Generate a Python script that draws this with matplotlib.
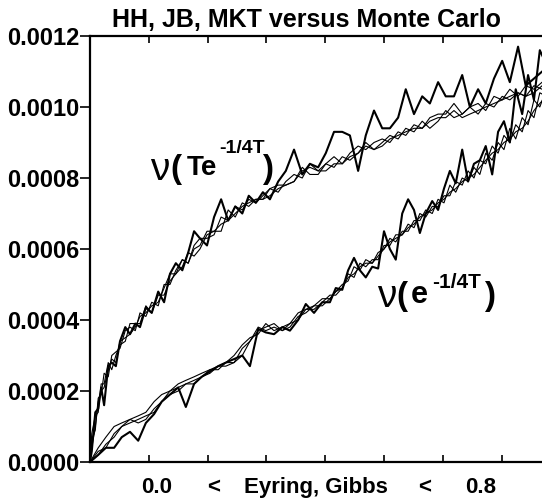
import numpy as np
import matplotlib
matplotlib.use("Agg")
import matplotlib.pyplot as plt
from matplotlib.ticker import FixedLocator, FuncFormatter

# ---------------- data (x in tick-spacing units, y in units of 1e-4) ----------------
x_upper = [0.00, 0.03, 0.09, 0.14, 0.19, 0.24, 0.31, 0.37, 0.44, 0.51,
           0.60, 0.68, 0.77, 0.85, 0.95, 1.05, 1.16, 1.26, 1.36, 1.46,
           1.57, 1.67, 1.77, 1.87, 1.99, 2.11, 2.23, 2.35, 2.47, 2.59,
           2.70, 2.82, 2.94, 3.06, 3.20, 3.33, 3.47, 3.61, 3.74, 3.88,
           4.01, 4.15, 4.29, 4.42, 4.56, 4.69, 4.83, 4.97, 5.10, 5.24,
           5.37, 5.51, 5.65, 5.78, 5.92, 6.05, 6.19, 6.33, 6.46, 6.60,
           6.73, 6.87, 7.01, 7.14, 7.28, 7.41, 7.55, 7.69]

upper_mc = [0.0, 0.3, 1.4, 1.5, 2.1, 1.6, 2.7, 2.8, 2.7, 3.4,
            3.8, 3.6, 3.9, 3.8, 4.35, 4.2, 4.8, 4.5, 5.3, 5.6,
            5.4, 5.9, 6.5, 6.3, 6.1, 6.9, 7.4, 6.8, 7.2, 7.0,
            7.5, 7.3, 7.6, 7.4, 7.9, 8.2, 8.8, 8.1, 8.4, 8.3,
            8.7, 9.3, 9.3, 9.2, 8.2, 9.2, 9.9, 9.4, 9.4, 9.7,
            10.5, 9.8, 10.3, 10.1, 10.7, 10.3, 10.3, 10.9, 10.0, 10.5,
            10.1, 10.8, 11.3, 10.7, 11.7, 10.6, 10.8, 11.0]
upper_hh = [0.0, 0.6, 0.9, 1.8, 1.9, 2.5, 2.4, 3.0, 3.1, 3.2,
            3.7, 3.8, 3.7, 4.2, 4.1, 4.5, 4.4, 5.0, 5.0, 5.4,
            5.7, 5.6, 6.1, 6.3, 6.3, 6.4, 6.9, 6.8, 7.2, 7.1,
            7.4, 7.3, 7.5, 7.7, 7.6, 7.9, 8.1, 8.0, 8.4, 8.2,
            8.4, 8.6, 8.4, 8.7, 8.9, 8.8, 9.0, 9.1, 9.0, 9.3,
            9.2, 9.5, 9.4, 9.7, 9.8, 9.8, 10.1, 9.8, 10.0, 10.1,
            9.9, 10.3, 10.2, 10.5, 10.3, 10.6, 10.5, 10.7]
upper_jb = [0.0, 0.8, 1.3, 1.4, 2.2, 2.2, 2.8, 2.6, 3.0, 3.3,
            3.4, 3.9, 3.9, 3.9, 4.4, 4.2, 4.7, 4.7, 5.1, 5.3,
            5.5, 5.9, 5.8, 6.0, 6.4, 6.5, 6.5, 7.1, 6.9, 7.3,
            7.2, 7.4, 7.4, 7.7, 7.8, 7.8, 7.9, 8.3, 8.1, 8.1,
            8.4, 8.3, 8.6, 8.5, 8.7, 9.0, 8.8, 9.0, 9.2, 9.1,
            9.4, 9.3, 9.6, 9.4, 9.6, 9.9, 9.7, 9.8, 10.0, 9.8,
            10.1, 10.0, 10.3, 10.2, 10.4, 10.3, 10.6, 10.5]
upper_mkt = [0.0, 0.4, 1.0, 1.7, 2.0, 2.1, 2.6, 2.9, 2.8, 3.4,
             3.5, 3.6, 3.8, 4.1, 4.2, 4.4, 4.5, 4.9, 5.3, 5.3,
             5.7, 5.6, 6.0, 6.1, 6.5, 6.5, 6.7, 6.8, 7.0, 7.2,
             7.3, 7.4, 7.4, 7.5, 7.7, 7.8, 7.9, 8.2, 8.3, 8.2,
             8.2, 8.4, 8.4, 8.6, 8.7, 8.9, 8.8, 8.9, 9.1, 9.2,
             9.3, 9.4, 9.4, 9.6, 9.7, 9.7, 9.9, 9.7, 9.8, 9.9,
             10.0, 10.1, 10.2, 10.3, 10.4, 10.3, 10.4, 10.6]

x_lower = [0.00, 0.14, 0.27, 0.41, 0.54, 0.68, 0.82, 0.95, 1.09, 1.22,
           1.36, 1.50, 1.63, 1.77, 1.90, 2.04, 2.18, 2.31, 2.45, 2.59,
           2.72, 2.86, 2.99, 3.13, 3.27, 3.40, 3.54, 3.67, 3.81, 3.95,
           4.08, 4.18, 4.29, 4.39, 4.49, 4.59, 4.69, 4.80, 4.90, 5.00,
           5.10, 5.20, 5.31, 5.41, 5.51, 5.61, 5.71, 5.82, 5.92, 6.02,
           6.12, 6.22, 6.33, 6.43, 6.53, 6.63, 6.73, 6.84, 6.94, 7.04,
           7.14, 7.24, 7.35, 7.45, 7.55, 7.65, 7.76]

lower_mc = [0.0, 0.2, 0.4, 0.4, 0.7, 0.85, 0.6, 1.1, 1.35, 1.7,
            1.9, 2.1, 1.55, 2.2, 2.4, 2.55, 2.7, 2.8, 2.9, 3.0,
            2.7, 3.75, 3.65, 3.6, 3.8, 3.7, 4.0, 4.45, 4.2, 4.5,
            4.5, 4.9, 4.85, 5.4, 5.75, 5.4, 5.2, 5.5, 5.45, 6.5,
            6.0, 5.7, 7.0, 7.4, 7.1, 6.45, 7.0, 7.35, 7.1, 7.7,
            8.2, 7.85, 8.8, 7.9, 8.4, 8.5, 8.9, 8.1, 9.3, 9.6,
            9.0, 10.5, 9.8, 10.9, 10.2, 11.6, 11.2]
lower_hh = [0.0, 0.4, 0.7, 1.0, 1.1, 1.2, 1.3, 1.4, 1.7, 1.9,
            2.0, 2.2, 2.3, 2.4, 2.5, 2.6, 2.7, 2.8, 3.0, 3.3,
            3.5, 3.6, 3.9, 3.7, 3.8, 3.9, 4.2, 4.3, 4.4, 4.6,
            4.6, 4.8, 5.0, 5.1, 5.5, 5.4, 5.7, 5.6, 5.9, 6.0,
            6.3, 6.2, 6.5, 6.5, 6.8, 6.8, 7.1, 7.0, 7.4, 7.3,
            7.8, 7.6, 8.0, 7.9, 8.3, 8.1, 8.7, 8.5, 9.0, 8.8,
            9.4, 9.1, 9.7, 9.5, 10.2, 10.0, 10.5]
lower_jb = [0.0, 0.2, 0.5, 0.7, 1.0, 1.1, 1.2, 1.3, 1.4, 1.7,
            1.9, 2.0, 2.2, 2.3, 2.4, 2.6, 2.6, 2.8, 2.8, 3.2,
            3.4, 3.8, 3.7, 3.8, 3.7, 3.9, 4.0, 4.3, 4.3, 4.5,
            4.7, 4.7, 4.9, 5.3, 5.2, 5.6, 5.5, 5.7, 5.7, 6.1,
            6.1, 6.4, 6.4, 6.7, 6.6, 7.0, 6.9, 7.2, 7.2, 7.5,
            7.5, 7.9, 7.8, 8.2, 8.0, 8.5, 8.4, 8.9, 8.7, 9.2,
            9.0, 9.5, 9.3, 9.9, 9.7, 10.4, 10.3]
lower_mkt = [0.0, 0.3, 0.4, 0.8, 1.0, 1.2, 1.1, 1.2, 1.5, 1.7,
             2.0, 2.1, 2.2, 2.2, 2.4, 2.5, 2.7, 2.7, 2.8, 3.0,
             3.4, 3.7, 3.8, 3.9, 3.7, 3.8, 4.1, 4.2, 4.4, 4.4,
             4.6, 4.8, 4.9, 5.2, 5.3, 5.5, 5.6, 5.6, 5.8, 6.0,
             6.2, 6.3, 6.4, 6.6, 6.7, 6.9, 7.0, 7.1, 7.3, 7.4,
             7.6, 7.7, 7.9, 8.0, 8.1, 8.3, 8.5, 8.7, 8.8, 9.0,
             9.1, 9.3, 9.4, 9.6, 9.9, 10.1, 10.3]

y_ticks = [0.0, 0.0002, 0.0004, 0.0006, 0.0008, 0.0010, 0.0012]
title = "HH, JB, MKT versus Monte Carlo"
xlabel_parts = ["0.0", "<", "Eyring, Gibbs", "<", "0.8"]

# ---------------- figure ----------------
W, H = 542, 504
fig = plt.figure(figsize=(W / 100, H / 100), dpi=100)
fig.patch.set_facecolor("white")

def fx(px):
    return px / W

def fy(py):
    return 1 - py / H

ax = fig.add_axes([fx(90), fy(462), fx(542) - fx(90), fy(36) - fy(462)])
ax.set_xlim(0, 452 / 58.8)
ax.set_ylim(0, 0.0012)

SCALE = 1e-4
for ys in (upper_hh, upper_jb, upper_mkt):
    ax.plot(x_upper, np.array(ys) * SCALE, color="black", lw=0.8)
ax.plot(x_upper, np.array(upper_mc) * SCALE, color="black", lw=1.5)
for ys in (lower_hh, lower_jb, lower_mkt):
    ax.plot(x_lower, np.array(ys) * SCALE, color="black", lw=0.8)
ax.plot(x_lower, np.array(lower_mc) * SCALE, color="black", lw=1.5)

BOLD = dict(family=["Liberation Sans", "DejaVu Sans"], weight="bold")

for s in ("left", "bottom", "top"):
    ax.spines[s].set_linewidth(1.6)
ax.spines["right"].set_visible(False)

ax.xaxis.set_major_locator(FixedLocator(range(0, 8)))
ax.tick_params(axis="x", direction="in", length=5, width=1.2, top=True,
               bottom=True, labelbottom=False)
ax.yaxis.set_major_locator(FixedLocator(y_ticks))
ax.yaxis.set_major_formatter(FuncFormatter(lambda v, p: f"{v:.4f}"))
ax.tick_params(axis="y", direction="out", length=7, width=1.2, pad=0.5)
for lab in ax.get_yticklabels():
    lab.set_fontfamily(BOLD["family"])
    lab.set_fontweight("bold")
    lab.set_fontsize(17)

fig.text(fx(307), fy(27), title, ha="center", va="baseline", fontsize=18, **BOLD)

# x-axis caption pieces
xl_pos = [157, 214, 316, 425, 481]
for t, p in zip(xlabel_parts, xl_pos):
    fig.text(fx(p), fy(493), t, ha="center", va="baseline", fontsize=16, **BOLD)

# curve labels
NU = dict(family=["Liberation Sans Narrow", "Liberation Sans", "DejaVu Sans"],
          weight="normal")
# upper: nu( Te^{-1/4T} )
fig.text(fx(160), fy(180), "\u03bd", ha="center", va="baseline", fontsize=28, **NU)
fig.text(fx(176), fy(178), "(", ha="center", va="baseline", fontsize=24, **BOLD)
fig.text(fx(187), fy(175), "Te", ha="left", va="baseline", fontsize=20, **BOLD)
fig.text(fx(219), fy(153), "-1/4T", ha="left", va="baseline", fontsize=14, **BOLD)
fig.text(fx(268), fy(178), ")", ha="center", va="baseline", fontsize=24, **BOLD)
# lower: nu( e^{-1/4T} )
fig.text(fx(387), fy(307), "\u03bd", ha="center", va="baseline", fontsize=28, **NU)
fig.text(fx(402), fy(305), "(", ha="center", va="baseline", fontsize=24, **BOLD)
fig.text(fx(411), fy(303), "e", ha="left", va="baseline", fontsize=22, **BOLD)
fig.text(fx(432), fy(288), "-1/4T", ha="left", va="baseline", fontsize=15, **BOLD)
fig.text(fx(490), fy(305), ")", ha="center", va="baseline", fontsize=24, **BOLD)

fig.savefig("out.png", dpi=100, facecolor="white")
